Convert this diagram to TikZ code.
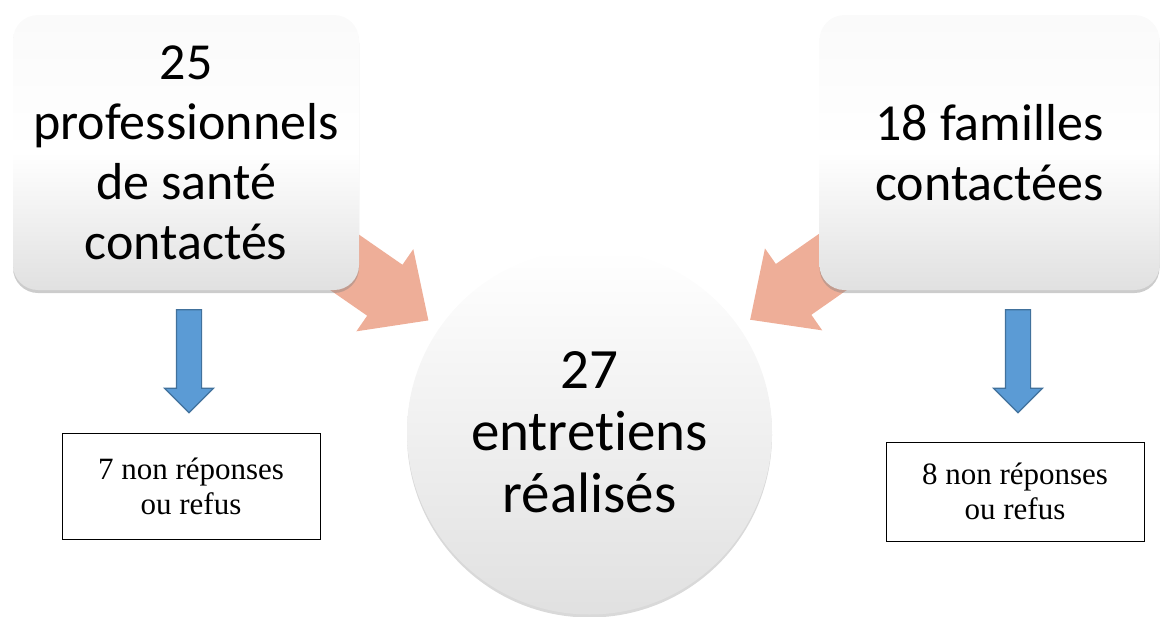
\documentclass[tikz,border=0pt]{standalone}
\usepackage{fontspec}
\setmainfont{Liberation Serif}
\newfontfamily\calib{Carlito}[Ligatures=NoCommon]
\usetikzlibrary{calc,shapes.arrows,shadows,backgrounds,positioning}
\definecolor{salmon}{RGB}{238,174,152}
\definecolor{blueA}{RGB}{91,155,213}
\definecolor{blueB}{RGB}{65,113,156}

\begin{document}
\begin{tikzpicture}[x=1pt,y=-1pt]
  \tikzset{card/.style={rounded corners=25pt,minimum width=346pt,minimum height=275pt,inner sep=4pt,
      top color=black!2,bottom color=black!12,middle color=white,
      drop shadow={shadow xshift=0pt,shadow yshift=-3pt,opacity=.4},
      font=\calib\fontsize{52}{60}\selectfont,align=center},
    hub/.style={circle,minimum size=365pt,inner sep=0pt,top color=white,bottom color=black!12,
      drop shadow={shadow xshift=0pt,shadow yshift=-3pt,opacity=.3},
      font=\calib\fontsize{57}{62}\selectfont,align=center},
    refus/.style={draw,line width=.8pt,fill=white,minimum width=258pt,minimum height=99pt,
      font=\fontsize{31}{35}\selectfont,align=center},
    down/.style={single arrow,draw=blueB,fill=blueA,line width=1.2pt,shape border rotate=270,
      minimum height=103pt,minimum width=48pt,inner sep=12pt,single arrow head extend=12pt}}
  \useasboundingbox (0,0) rectangle (1161,616);
  \node[card]                     (prof)   at (186,152.5)  {25\\professionnels\\de santé\\contactés};
  \node[card,minimum width=340pt] (fam)    at (989.5,152.5) {18 familles\\contactées};
  \node[hub]                      (real)   at (589.5,432)  {27\\entretiens\\réalisés};
  \node[down]                     (arrL)   at (189,355)  {};
  \node[down]                     (arrR)   at (1018,355) {};
  \node[refus,minimum height=106pt] (refusL) at (191,486)  {7 non réponses\\ou refus};
  \node[refus]                    (refusR) at (1015,491.5) {8 non réponses\\ou refus};
  % big arrows into the circle
  \begin{scope}[on background layer]
    \foreach \src in {prof,fam}{
      \path let \p1=($(real.center)-(\src.center)$), \n1={atan2(\y1,\x1)} in
        coordinate (tip) at ($(real.center)!196pt!(\src.center)$) \pgfextra{\xdef\ang{\n1}};
      \fill[salmon,shift={(tip)},rotate=\ang]
        (0,0) -- (-53,50) -- (-53,31) -- (-250,31) -- (-250,-31) -- (-53,-31) -- (-53,-50) -- cycle;
    }
  \end{scope}
\end{tikzpicture}
\end{document}
